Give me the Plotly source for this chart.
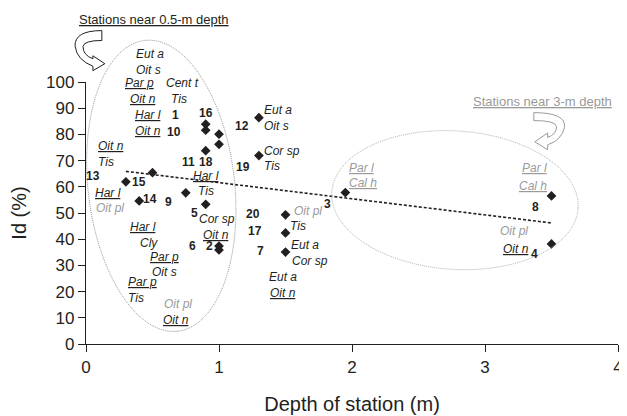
import numpy as np
import plotly.graph_objects as go

# ---------------- data ----------------
stations = [1, 10, 16, 18, 11, 12, 19, 13, 15, 14, 9, 5, 6, 2, 20, 17, 7, 3, 8, 4]
depth_m = [0.9, 0.9, 1.0, 1.0, 0.9, 1.3, 1.3, 0.5, 0.3, 0.4, 0.75, 0.9, 1.0, 1.0,
           1.5, 1.5, 1.5, 1.95, 3.5, 3.5]
id_pct = [83.9, 81.6, 80.1, 76.2, 73.8, 86.4, 71.9, 65.4, 61.9, 54.6, 57.7, 53.3, 35.9, 37.4,
          49.3, 42.4, 35.1, 57.8, 56.5, 38.2]

trend_depth = [0.3, 3.5]
trend_id = [65.9, 46.2]

x_ticks = [0, 1, 2, 3, 4]
y_ticks = [0, 10, 20, 30, 40, 50, 60, 70, 80, 90, 100]
X_RANGE = [0, 4]
Y_RANGE = [0, 100]

# station-number labels: (label, depth, Id)
number_labels = [
    ("1", 0.676, 87.3), ("16", 0.899, 88.0), ("10", 0.658, 81.0), ("12", 1.172, 83.2),
    ("11", 0.770, 69.6), ("18", 0.904, 69.4), ("19", 1.180, 67.6), ("13", 0.054, 64.3),
    ("15", 0.397, 62.0), ("14", 0.482, 55.5), ("9", 0.621, 54.3), ("5", 0.812, 50.1),
    ("6", 0.800, 37.3), ("2", 0.929, 37.3), ("20", 1.252, 49.5), ("17", 1.267, 43.0),
    ("7", 1.309, 35.4), ("3", 1.818, 53.3), ("8", 3.376, 52.4), ("4", 3.370, 34.2),
]

# taxon labels: (text, depth, Id, underlined, grey)
taxon_labels = [
    ("Eut a", 0.484, 110.5, False, False), ("Oit s", 0.472, 104.5, False, False),
    ("Par p", 0.402, 99.7, True, False), ("Cent t", 0.725, 99.7, False, False),
    ("Oit n", 0.427, 93.5, True, False), ("Tis", 0.700, 93.5, False, False),
    ("Har l", 0.464, 87.3, True, False), ("Oit n", 0.464, 81.3, True, False),
    ("Oit n", 0.191, 75.4, True, False), ("Tis", 0.154, 69.4, False, False),
    ("Har l", 0.166, 57.7, True, False), ("Oit pl", 0.184, 51.8, False, True),
    ("Har l", 0.899, 64.3, True, False), ("Tis", 0.899, 58.3, False, False),
    ("Cor sp", 0.986, 47.7, False, False), ("Oit n", 0.974, 41.7, True, False),
    ("Har l", 0.427, 44.6, True, False), ("Cly", 0.472, 38.6, False, False),
    ("Par p", 0.589, 33.2, True, False), ("Oit s", 0.589, 27.3, False, False),
    ("Par p", 0.422, 23.5, True, False), ("Tis", 0.373, 17.6, False, False),
    ("Oit pl", 0.688, 15.3, False, True), ("Oit n", 0.676, 9.0, True, False),
    ("Eut a", 1.446, 89.4, False, False), ("Oit s", 1.431, 83.2, False, False),
    ("Cor sp", 1.470, 73.7, False, False), ("Tis", 1.401, 67.8, False, False),
    ("Oit pl", 1.669, 50.7, False, True), ("Tis", 1.595, 44.9, False, False),
    ("Eut a", 1.649, 37.9, False, False), ("Cor sp", 1.682, 31.7, False, False),
    ("Eut a", 1.483, 25.4, False, False), ("Oit n", 1.478, 19.3, True, False),
    ("Par l", 2.072, 67.1, True, True), ("Cal h", 2.084, 61.6, True, True),
    ("Par l", 3.370, 67.2, True, True), ("Cal h", 3.363, 60.2, True, True),
    ("Oit pl", 3.221, 43.0, False, True), ("Oit n", 3.234, 36.4, True, False),
]

group_titles = [
    ("Stations near 0.5-m depth", 0.514, 124.0, False),
    ("Stations near 3-m depth", 3.433, 92.6, True),
]

# ---------------- layout helpers ----------------
OFF = 8                      # page offset of the figure inside the browser window
W, H = 627 - OFF, 416 - OFF
M = dict(l=78, r=4, t=74, b=69)
PW = W - M["l"] - M["r"]
PH = H - M["t"] - M["b"]
FONT = "Liberation Sans, Arial, sans-serif"
INK = "#231f20"
GREY = "#9a9a9a"


def paper(px, py):
    """window pixel -> paper coordinates"""
    return (px - OFF - M["l"]) / PW, 1 - (py - OFF - M["t"]) / PH


def yp(v):
    return (v - Y_RANGE[0]) / (Y_RANGE[1] - Y_RANGE[0])


def ellipse_path(cx, cy, a, b, ang_deg, n=160):
    th = np.radians(ang_deg)
    pts = []
    for t in np.linspace(0, 2 * np.pi, n, endpoint=False):
        x = cx + a * np.cos(t) * np.cos(th) - b * np.sin(t) * np.sin(th)
        y = cy + a * np.cos(t) * np.sin(th) + b * np.sin(t) * np.cos(th)
        pts.append(paper(x, y))
    return "M " + " L ".join(f"{x:.4f},{y:.4f}" for x, y in pts) + " Z"


def px_path(cmds):
    out = []
    for c in cmds:
        if isinstance(c, str):
            out.append(c)
        else:
            x, y = paper(*c)
            out.append(f"{x:.4f},{y:.4f}")
    return " ".join(out)


def label(text, xx, yy, size, color):
    return dict(x=xx, y=yp(yy), xref="x", yref="paper", text=text, showarrow=False,
                xanchor="center", yanchor="middle",
                font=dict(family=FONT, size=size, color=color))


fig = go.Figure()

fig.add_trace(go.Scatter(
    x=trend_depth, y=trend_id, mode="lines",
    line=dict(color=INK, width=1.6, dash="3px,2px"),
    hoverinfo="skip", showlegend=False,
))

fig.add_trace(go.Scatter(
    x=depth_m, y=id_pct, mode="markers", text=[str(s) for s in stations],
    marker=dict(symbol="diamond", size=7.5, color=INK),
    cliponaxis=False, showlegend=False,
))

annotations = []
for lab, xx, yy in number_labels:
    annotations.append(label(f"<b>{lab}</b>", xx, yy, 12, INK))
for lab, xx, yy, und, grey in taxon_labels:
    t = f"<i>{lab}</i>"
    if und:
        t = f"<u>{t}</u>"
    annotations.append(label(t, xx, yy, 12, GREY if grey else INK))
for lab, xx, yy, grey in group_titles:
    annotations.append(label(f"<u>{lab}</u>", xx, yy, 13, GREY if grey else INK))

shapes = [
    dict(type="path", xref="paper", yref="paper",
         path=ellipse_path(162, 187, 148, 74, 83.6),
         line=dict(color="#8a8a8a", width=0.9, dash="1px,1px")),
    dict(type="path", xref="paper", yref="paper",
         path=ellipse_path(458.4, 201.5, 124.6, 70, 3.8),
         line=dict(color="#a8a8a8", width=0.9, dash="1px,1px")),
    # curved arrow (left, black)
    dict(type="path", xref="paper", yref="paper",
         path=px_path(["M", (102, 30), "Q", (74, 30), (75, 46), "Q", (77, 60), (93, 66),
                       "L", (93, 70.5), "L", (105, 63.5), "L", (93, 55.5), "L", (93, 58.5),
                       "Q", (83, 55), (83, 46), "Q", (84, 40), (102, 40), "Z"]),
         fillcolor="white", line=dict(color=INK, width=1)),
    # curved arrow (right, grey)
    dict(type="path", xref="paper", yref="paper",
         path=px_path(["M", (538, 113), "Q", (571, 113), (569, 128), "Q", (566, 141), (552, 145.5),
                       "L", (552, 150.5), "L", (539, 142.5), "L", (552, 133.5), "L", (552, 138),
                       "Q", (561, 135), (561, 127), "Q", (560, 121), (538, 121), "Z"]),
         fillcolor="white", line=dict(color=GREY, width=1)),
]

fig.update_layout(
    width=W, height=H, margin=M,
    paper_bgcolor="white", plot_bgcolor="white",
    font=dict(family=FONT, color=INK),
    showlegend=False,
    annotations=annotations, shapes=shapes,
    xaxis=dict(range=X_RANGE, tickvals=x_ticks, ticks="outside", ticklen=7, tickwidth=1.3,
               tickcolor=INK, showline=True, linecolor=INK, linewidth=1.3, showgrid=False,
               zeroline=False, tickfont=dict(size=17, color=INK), ticklabeloverflow="allow",
               title=dict(text="Depth of station (m)", font=dict(size=20, color=INK),
                          standoff=21)),
    yaxis=dict(range=Y_RANGE, tickvals=y_ticks, ticks="outside", ticklen=7, tickwidth=1.3,
               tickcolor=INK, showline=True, linecolor=INK, linewidth=1.3, showgrid=False,
               zeroline=False, tickfont=dict(size=17, color=INK), ticklabeloverflow="allow",
               title=dict(text="Id (%)", font=dict(size=20, color=INK), standoff=16)),
)

fig.write_html("out.html")
